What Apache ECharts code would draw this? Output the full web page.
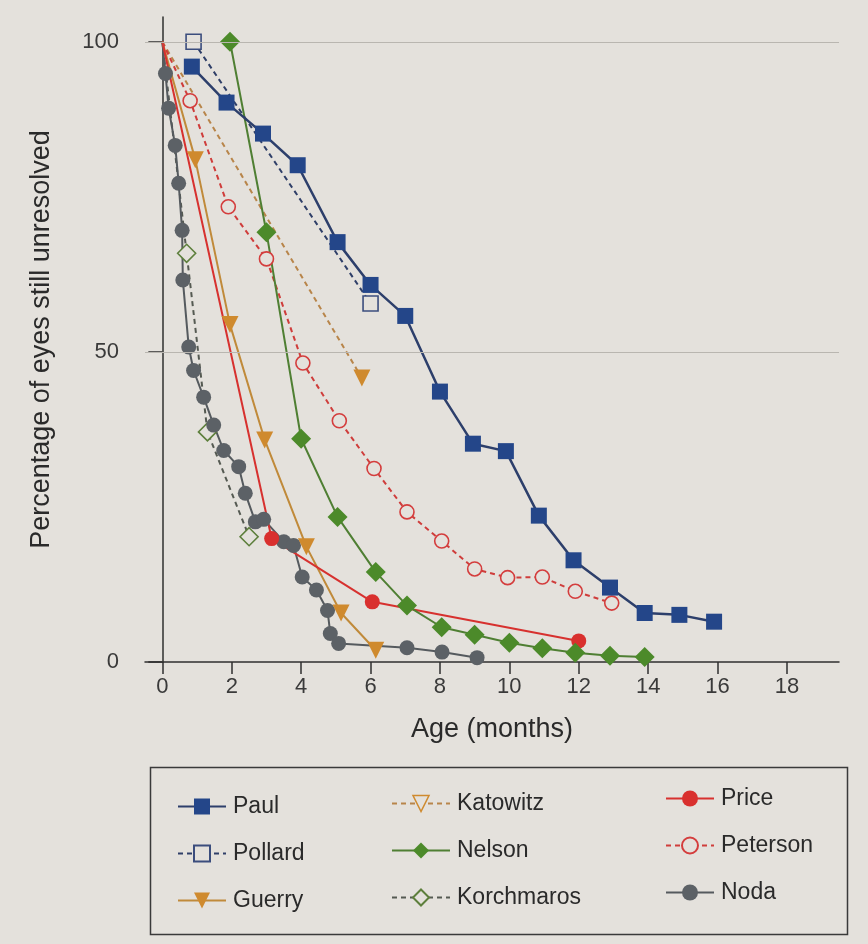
<!DOCTYPE html>
<html>
<head>
<meta charset="utf-8">
<script src="https://cdn.jsdelivr.net/npm/echarts@6/dist/echarts.min.js"></script>
<style>
  html, body { margin: 0; padding: 0; background: #e4e1dc; }
  #main { width: 868px; height: 944px; }
</style>
</head>
<body>
<div id="main"></div>
<script>
// x tick labels
var monthTicks = [0, 2, 4, 6, 8, 10, 12, 14, 16, 18];
var pctTicks = [0, 50, 100];

// series values
var paulMonths = [0.85, 1.85, 2.9, 3.9, 5.05, 6.0, 7.0, 8.0, 8.95, 9.9, 10.85, 11.85, 12.9, 13.9, 14.9, 15.9];
var paulPct = [96.0, 90.2, 85.2, 80.1, 67.7, 60.8, 55.8, 43.6, 35.2, 34.0, 23.6, 16.4, 12.0, 7.9, 7.6, 6.5];

var pollardMonths = [0.9, 6.0];
var pollardPct = [100, 57.8];

var guerryMonths = [0, 0.95, 1.95, 2.95, 4.15, 5.15, 6.15];
var guerryPct = [100, 81.0, 54.4, 35.8, 18.6, 7.9, 1.9];

var katowitzMonths = [0, 5.75];
var katowitzPct = [100, 45.8];

var nelsonMonths = [1.95, 3.0, 4.0, 5.05, 6.15, 7.05, 8.05, 9.0, 10.0, 10.95, 11.9, 12.9, 13.9];
var nelsonPct = [100, 69.3, 36.0, 23.4, 14.5, 9.1, 5.6, 4.4, 3.1, 2.2, 1.5, 1.0, 0.8];

var korchMonths = [0, 0.7, 1.3, 2.5];
var korchPct = [100, 65.9, 37.1, 20.2];

var priceMonths = [0, 3.15, 6.05, 12.0];
var pricePct = [100, 19.9, 9.7, 3.4];

var petersonMonths = [0, 0.8, 1.9, 3.0, 4.05, 5.1, 6.1, 7.05, 8.05, 9.0, 9.95, 10.95, 11.9, 12.95];
var petersonPct = [100, 90.5, 73.4, 65.0, 48.2, 38.9, 31.2, 24.2, 19.5, 15.0, 13.6, 13.7, 11.4, 9.5];

var nodaMonths = [0, 0.09, 0.18, 0.37, 0.47, 0.57, 0.59, 0.76, 0.9, 1.19, 1.48, 1.77, 2.2, 2.39, 2.68, 2.92,
  3.5, 3.78, 4.03, 4.44, 4.76, 4.84, 5.08, 7.05, 8.06, 9.07];
var nodaPct = [100, 94.9, 89.3, 83.3, 77.2, 69.6, 61.6, 50.8, 47.0, 42.7, 38.2, 34.1, 31.5, 27.2, 22.6, 23.0,
  19.4, 18.8, 13.7, 11.6, 8.3, 4.6, 3.0, 2.3, 1.6, 0.7];

var BG = '#e4e1dc';
var FONT = 'Liberation Sans';

// the common start point (month 0) has no marker in the figure
function pairs(xs, ys) {
  return xs.map(function (x, i) {
    return x === 0 ? { value: [x, ys[i]], symbol: 'none' } : [x, ys[i]];
  });
}

// one line series
function line(name, xs, ys, o) {
  return {
    name: name,
    type: 'line',
    data: pairs(xs, ys),
    symbol: o.symbol,
    symbolSize: o.size,
    symbolRotate: o.rotate || 0,
    showAllSymbol: true,
    z: o.z || 2,
    lineStyle: { color: o.line, width: o.width || 2, type: o.dash ? [5, 4] : 'solid' },
    itemStyle: o.open
      ? { color: BG, borderColor: o.mark, borderWidth: 1.6 }
      : { color: o.mark, borderWidth: 0 },
    emphasis: { disabled: true },
    animation: false
  };
}

var series = [
  line('Korchmaros', korchMonths, korchPct, { symbol: 'diamond', size: 18, line: '#555a52', mark: '#5d7f3c', open: true, dash: true }),
  line('Noda', nodaMonths, nodaPct, { symbol: 'circle', size: 15, line: '#555a5e', mark: '#5c6166' }),
  line('Katowitz', katowitzMonths, katowitzPct, { symbol: 'triangle', rotate: 180, size: 17, line: '#b8854a', mark: '#cf8a2e', dash: true }),
  line('Guerry', guerryMonths, guerryPct, { symbol: 'triangle', rotate: 180, size: 17, line: '#c08a3a', mark: '#cf8a2e' }),
  line('Price', priceMonths, pricePct, { symbol: 'circle', size: 15, line: '#d7312f', mark: '#d9302e' }),
  line('Peterson', petersonMonths, petersonPct, { symbol: 'circle', size: 14, line: '#cf3d3b', mark: '#d43d3d', open: true, dash: true }),
  line('Nelson', nelsonMonths, nelsonPct, { symbol: 'diamond', size: 20, line: '#4f7f33', mark: '#4c8a2a' }),
  line('Pollard', pollardMonths, pollardPct, { symbol: 'rect', size: 15, line: '#2f3f68', mark: '#3b4d7d', open: true, dash: true }),
  line('Paul', paulMonths, paulPct, { symbol: 'rect', size: 16, line: '#2d3f6b', mark: '#244689', width: 2.5, z: 3 })
];

// reference lines at 50 and 100
series[0].markLine = {
  silent: true,
  symbol: 'none',
  label: { show: false },
  lineStyle: { color: '#b9b6b0', width: 1, type: 'solid' },
  data: [{ yAxis: 50 }, { yAxis: 100 }],
  animation: false
};

function legend(names, left, top, width, extra) {
  return {
    orient: 'vertical',
    left: left,
    top: top,
    itemGap: 24,
    itemWidth: width,
    itemHeight: 20,
    selectedMode: false,
    textStyle: { fontFamily: FONT, fontSize: 23, color: '#2a2a2a', padding: [0, 0, 0, 2] },
    data: names.map(function (n) { return extra && extra[n] ? Object.assign({ name: n }, extra[n]) : n; })
  };
}

var chart = echarts.init(document.getElementById('main'));
chart.setOption({
  backgroundColor: BG,
  animation: false,
  textStyle: { fontFamily: FONT },
  grid: { left: 145, right: 29, top: 17, bottom: 282 },
  xAxis: {
    type: 'value',
    min: -0.5,
    max: 19.5,
    name: 'Age (months)',
    nameLocation: 'middle',
    nameGap: 54,
    nameTextStyle: { fontSize: 27, color: '#2a2a2a', fontFamily: FONT },
    axisLine: { onZero: false, lineStyle: { color: '#2f2f2f', width: 1.5 } },
    axisTick: { show: true, length: 12, customValues: monthTicks, lineStyle: { color: '#2f2f2f', width: 1.5 } },
    axisLabel: { customValues: monthTicks, margin: 14, fontSize: 22, color: '#3a3a3a', fontFamily: FONT },
    splitLine: { show: false }
  },
  yAxis: {
    type: 'value',
    min: 0,
    max: 104,
    name: 'Percentage of eyes still unresolved',
    nameLocation: 'middle',
    nameGap: 90,
    nameTextStyle: { fontSize: 27, color: '#2a2a2a', fontFamily: FONT },
    axisLine: { show: true, lineStyle: { color: '#2f2f2f', width: 1.5 } },
    axisTick: { show: true, length: 14, customValues: pctTicks, lineStyle: { color: '#2f2f2f', width: 1.5 } },
    axisLabel: { customValues: pctTicks, margin: 26, fontSize: 22, color: '#3a3a3a', fontFamily: FONT },
    splitLine: { show: false }
  },
  legend: [
    legend(['Paul', 'Pollard', 'Guerry'], 172, 790, 48),
    legend(['Katowitz', 'Nelson', 'Korchmaros'], 386, 787, 58, {
      Katowitz: { itemStyle: { color: BG, borderColor: '#cf8a2e', borderWidth: 1.5 } }
    }),
    legend(['Price', 'Peterson', 'Noda'], 660, 782, 48)
  ],
  graphic: [{
    type: 'rect',
    left: 148,
    top: 765,
    shape: { width: 697, height: 167 },
    style: { fill: 'none', stroke: '#3a3a3a', lineWidth: 1.5 },
    silent: true
  }],
  series: series
});
</script>
</body>
</html>
